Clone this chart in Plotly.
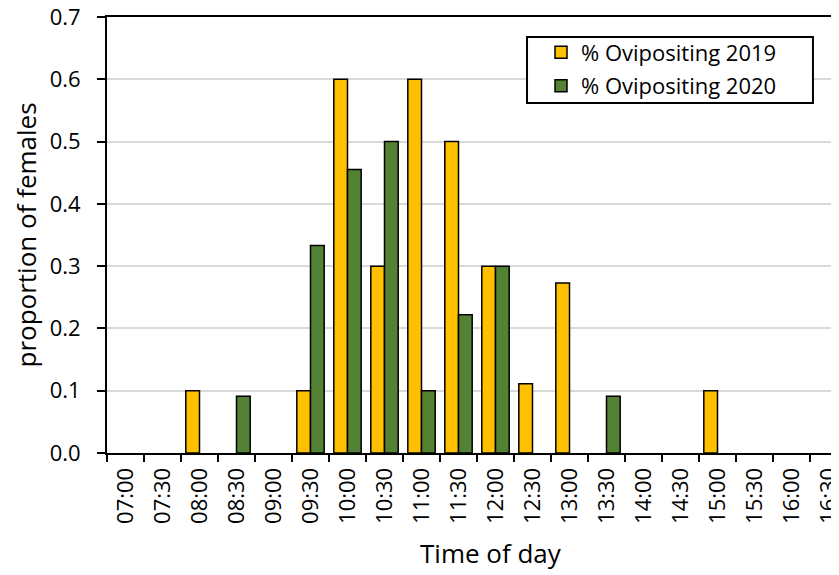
import plotly.graph_objects as go

times = ["07:00", "07:30", "08:00", "08:30", "09:00", "09:30", "10:00", "10:30",
         "11:00", "11:30", "12:00", "12:30", "13:00", "13:30", "14:00", "14:30",
         "15:00", "15:30", "16:00", "16:30"]
ovi_2019 = [0, 0, 0.1, 0, 0, 0.1, 0.6, 0.3, 0.6, 0.5, 0.3, 0.111, 0.273, 0, 0, 0,
            0.1, 0, 0, 0]
ovi_2020 = [0, 0, 0, 0.091, 0, 0.333, 0.455, 0.5, 0.1, 0.222, 0.3, 0, 0, 0.091, 0, 0,
            0, 0, 0, 0]
y_ticks = [0.0, 0.1, 0.2, 0.3, 0.4, 0.5, 0.6, 0.7]

FONT = "Open Sans"


def shown(vals):
    # zero-height bars are not drawn in the original (no outline on the baseline)
    return [v if v > 0 else None for v in vals]


fig = go.Figure()
fig.add_trace(go.Bar(x=times, y=shown(ovi_2019), name="% Ovipositing 2019",
                     legendgroup="a",
                     marker=dict(color="#FFC000", line=dict(color="black", width=1.5))))
fig.add_trace(go.Bar(x=times, y=shown(ovi_2020), name="% Ovipositing 2020",
                     legendgroup="b",
                     marker=dict(color="#548235", line=dict(color="black", width=1.5))))

# the page has an 8px body margin; plot area targets screen x 107..847, y 17..453
fig.update_layout(
    width=839, height=575,
    margin=dict(l=99, r=0, t=9, b=130, autoexpand=False),
    paper_bgcolor="white", plot_bgcolor="white",
    barmode="group", bargap=0.26, bargroupgap=0,
    font=dict(family=FONT, color="black", size=22),
    legend=dict(x=0.5865, y=0.967, xanchor="left", yanchor="top",
                borderwidth=0, bgcolor="rgba(0,0,0,0)",
                font=dict(family=FONT, size=22, color="black"),
                tracegroupgap=2, itemwidth=30),
    showlegend=True,
    shapes=[dict(type="rect", xref="paper", yref="paper",
                 x0=0.5676, x1=0.954, y0=0.8028, y1=0.954,
                 line=dict(color="black", width=2), fillcolor="white", layer="above")],
    annotations=[dict(text="Time of day", xref="paper", yref="paper",
                      x=0.519, y=-0.2305, xanchor="center", yanchor="middle",
                      showarrow=False, font=dict(family=FONT, size=26, color="black"))],
)
fig.update_xaxes(
    type="category", range=[-0.5, 19.5], automargin=False,
    showline=True, linecolor="black", linewidth=2, mirror=True,
    ticks="outside", tickson="boundaries", ticklen=7, tickwidth=1.5, tickcolor="black",
    tickangle=-90, tickfont=dict(family=FONT, size=22), ticklabelstandoff=4,
    showgrid=False,
)
fig.update_yaxes(
    range=[0, 0.7], tickvals=y_ticks, tickformat=".1f", automargin=False,
    showline=True, linecolor="black", linewidth=2,
    ticks="outside", ticklen=8, tickwidth=1.5, tickcolor="black",
    tickfont=dict(family=FONT, size=22), ticklabelstandoff=12,
    ticklabeloverflow="allow",
    showgrid=True, gridcolor="#D9D9D9", gridwidth=1.5,
    zeroline=False,
    title=dict(text="proportion of females", font=dict(family=FONT, size=26), standoff=10),
)

fig.write_html("out.html")
